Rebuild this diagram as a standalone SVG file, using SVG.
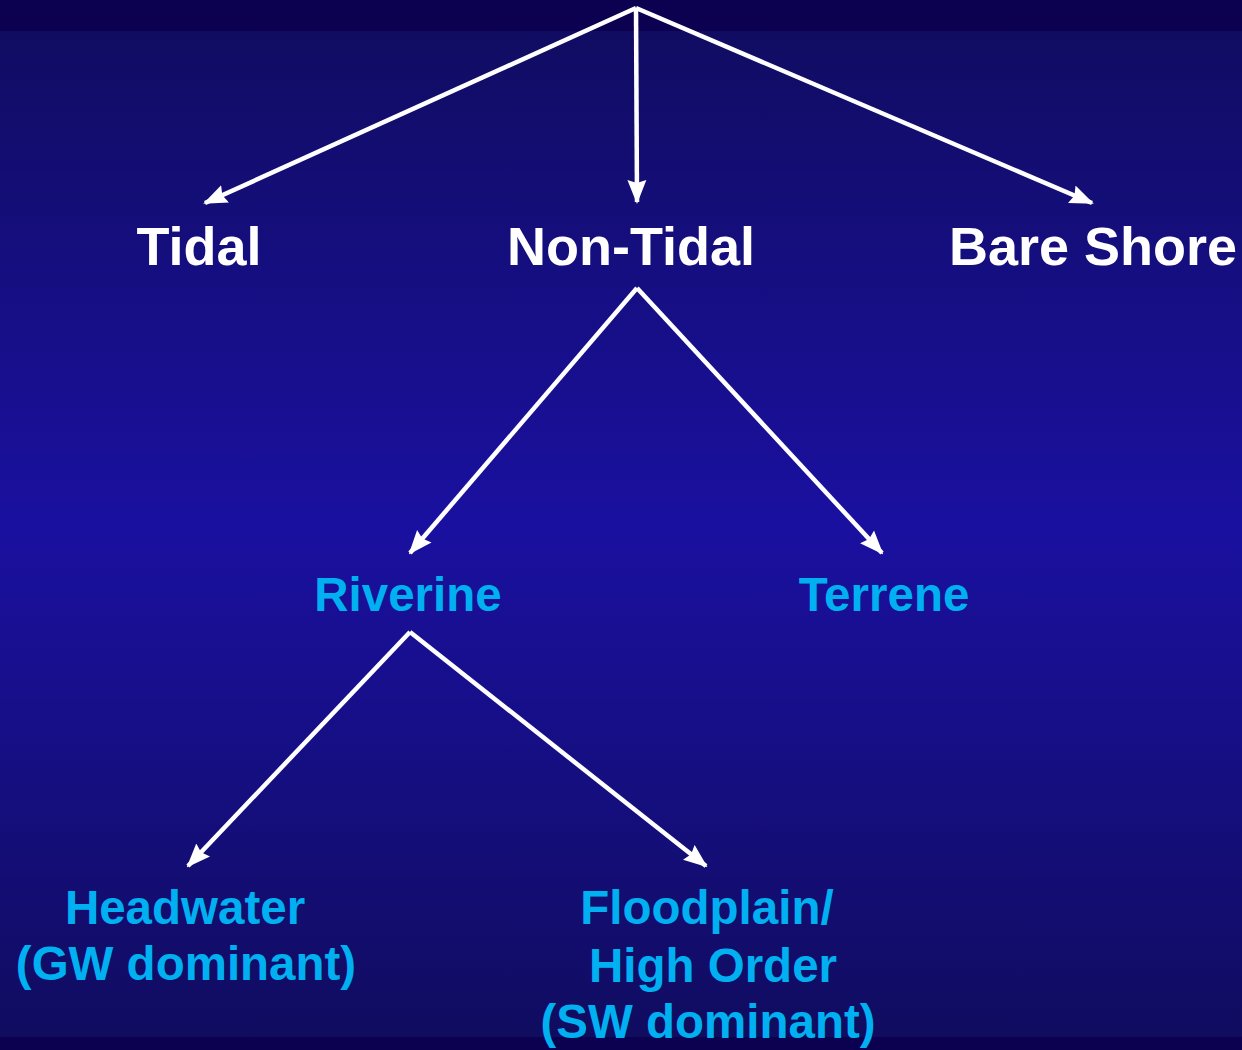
<svg xmlns="http://www.w3.org/2000/svg" width="1242" height="1050" viewBox="0 0 1242 1050">
<defs>
<linearGradient id="bg" x1="0" y1="0" x2="0" y2="1">
<stop offset="0" stop-color="#100c5e"/>
<stop offset="0.5" stop-color="#1a10a0"/>
<stop offset="1" stop-color="#100c5e"/>
</linearGradient>
<marker id="ah" markerUnits="userSpaceOnUse" markerWidth="24" markerHeight="20" viewBox="0 0 24 20" refX="22" refY="10" orient="auto">
<path d="M0,0.5 L24,10 L0,19.5 L3,10 Z" fill="#ffffff"/>
</marker>
</defs>
<style>
.w{font-family:"Liberation Sans",Arial,sans-serif;font-weight:bold;font-size:54px;fill:#ffffff;text-anchor:middle}
.c{font-family:"Liberation Sans",Arial,sans-serif;font-weight:bold;font-size:47.5px;fill:#00b0f0;text-anchor:middle}
.e{stroke:#ffffff;stroke-width:4.5;fill:none;marker-end:url(#ah)}
</style>
<rect x="0" y="0" width="1242" height="1050" fill="url(#bg)"/>
<rect x="0" y="0" width="1242" height="31" fill="#0c0050"/>
<rect x="0" y="1037" width="1242" height="13" fill="#0c0050"/>
<g id="connectors">
<path class="e" d="M636,8 L205,203"/>
<path class="e" d="M636,8 L637,202"/>
<path class="e" d="M636,8 L1092,203"/>
<path class="e" d="M637,288 L410,553"/>
<path class="e" d="M637,288 L882,553"/>
<path class="e" d="M410,632 L188,866"/>
<path class="e" d="M410,632 L706,866"/>
</g>
<g id="tidal"><text class="w" x="199" y="265">Tidal</text></g>
<g id="non-tidal"><text class="w" x="631" y="265">Non-Tidal</text></g>
<g id="bare-shore"><text class="w" x="1093" y="265">Bare Shore</text></g>
<g id="riverine"><text class="c" x="408" y="611">Riverine</text></g>
<g id="terrene"><text class="c" x="884" y="611">Terrene</text></g>
<g id="headwater"><text class="c" x="185" y="924">Headwater</text><text class="c" x="186" y="980">(GW dominant)</text></g>
<g id="floodplain"><text class="c" x="707" y="924">Floodplain/</text><text class="c" x="713" y="982">High Order</text><text class="c" x="708" y="1038">(SW dominant)</text></g>
</svg>
